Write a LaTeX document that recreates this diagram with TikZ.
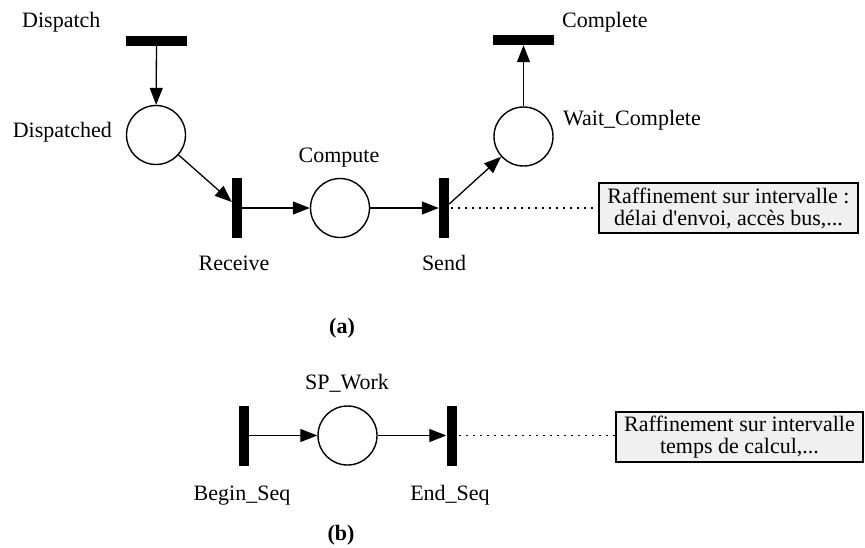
\documentclass[tikz,border=0pt]{standalone}
\usepackage{fontspec}
\setmainfont{Liberation Serif}
\usetikzlibrary{arrows.meta}
\newcommand\lblfont{\fontsize{22}{22}\selectfont}
\tikzset{
  place/.style={circle, draw, line width=1.4pt, minimum size=59pt, inner sep=0pt},
  vbar/.style={fill=black, minimum width=10pt, minimum height=60pt, inner sep=0pt},
  hbar/.style={fill=black, minimum width=61pt, minimum height=10pt, inner sep=0pt},
  arc/.style={line width=1.3pt, -{Triangle[length=17pt,width=13pt]}},
  lbl/.style={font=\lblfont, inner sep=0pt},
  notebox/.style={draw, line width=1.2pt, fill=black!6, font=\lblfont, align=center, inner sep=0pt},
  dots/.style={line width=1.4pt, dash pattern=on 2pt off 5pt},
}
\begin{document}
\begin{tikzpicture}[x=1pt, y=-1pt]
\useasboundingbox (0,0) rectangle (865,547);

% (a) task net
\node[hbar]  (dispatch) at (156.5,40.5) {};
\node[place] (dispatched) at (156,135) {};
\node[vbar]  (receive) at (237,208) {};
\node[place] (compute) at (340,208) {};
\node[vbar]  (send) at (444,208) {};
\node[place] (waitc) at (523.5,136.5) {};
\node[hbar]  (complete) at (523.5,40) {};

\node[lbl, anchor=base west] (ldispatch) at (22,27) {Dispatch};
\node[lbl, anchor=base east] (ldispatched) at (112,137) {Dispatched};
\node[lbl, anchor=base] (lcompute) at (339,162) {Compute};
\node[lbl, anchor=base] (lreceive) at (234,270) {Receive};
\node[lbl, anchor=base] (lsend) at (444,270) {Send};
\node[lbl, anchor=base west] (lwaitc) at (563,125) {Wait\_Complete};
\node[lbl, anchor=base west] (lcomplete) at (562,27) {Complete};

\draw[arc] (dispatch) -- (dispatched);
\draw[arc] (dispatched) -- ([yshift=6pt]receive.west);
\draw[arc] (receive) -- (compute);
\draw[arc] (compute) -- (send);
\draw[arc] ([yshift=4pt]send.east) -- (waitc);
\draw[arc] (waitc) -- (complete);

\node[notebox, minimum width=259pt, minimum height=50pt] (note1) at (728.5,208)
  {Raffinement sur intervalle :\\délai d\textquotesingle envoi, accès bus,...};
\draw[dots] (send.center) -- (note1.west);

\node[lbl, font=\lblfont\bfseries, anchor=base] (capa) at (342,333) {(a)};

% (b) sequential sub-program net
\node[vbar]  (bseq) at (244,435.5) {};
\node[place] (spwork) at (347.5,435.5) {};
\node[vbar]  (eseq) at (451.5,435.5) {};

\node[lbl, anchor=base] (lspwork) at (347,389) {SP\_Work};
\node[lbl, anchor=base] (lbseq) at (242,500) {Begin\_Seq};
\node[lbl, anchor=base] (leseq) at (450,500) {End\_Seq};

\draw[arc] (bseq) -- (spwork);
\draw[arc] (spwork) -- (eseq);

\node[notebox, minimum width=247pt, minimum height=50pt] (note2) at (739.5,437)
  {Raffinement sur intervalle\\temps de calcul,...};
\draw[dots] (eseq.center) -- (note2.west |- eseq.center);

\node[lbl, font=\lblfont\bfseries, anchor=base] (capb) at (341,540) {(b)};
\end{tikzpicture}
\end{document}
